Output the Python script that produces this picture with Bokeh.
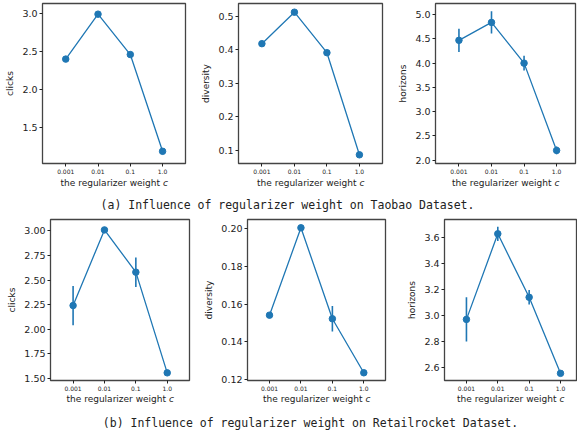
from bokeh.plotting import figure
from bokeh.layouts import column, row
from bokeh.models import FixedTicker, Label, Range1d
from bokeh.embed import file_html
from bokeh.resources import INLINE

# ---- data ----
c_labels = ["0.001", "0.01", "0.1", "1.0"]
x_idx = [0, 1, 2, 3]

tb_clicks = [2.40, 2.99, 2.46, 1.19]
tb_clicks_err = [0.02, 0.02, 0.03, 0.04]
tb_div = [0.418, 0.512, 0.391, 0.086]
tb_div_err = [0.004, 0.005, 0.004, 0.003]
tb_hor = [4.47, 4.84, 4.00, 2.20]
tb_hor_err = [0.24, 0.23, 0.15, 0.08]

rr_clicks = [2.24, 3.01, 2.58, 1.555]
rr_clicks_err = [0.20, 0.02, 0.15, 0.02]
rr_div = [0.1542, 0.2006, 0.1523, 0.1236]
rr_div_err = [0.001, 0.001, 0.0068, 0.001]
rr_hor = [2.967, 3.625, 3.137, 2.552]
rr_hor_err = [0.17, 0.055, 0.055, 0.02]

x_title = "the regularizer weight"
x_var = "c"
caption_a = "(a) Influence of regularizer weight on Taobao Dataset."
caption_b = "(b) Influence of regularizer weight on Retailrocket Dataset."

BLUE = "#1f77b4"
FONT = "DejaVu Sans"
TXT = "#222222"


def panel(vals, errs, ylabel, yr, yticks, fmt, xr, fw, fh, bl, br, bt, bb):
    p = figure(frame_width=fw, frame_height=fh, min_border_left=bl, min_border_right=br,
               min_border_top=bt, min_border_bottom=bb,
               x_range=Range1d(*xr), y_range=Range1d(*yr),
               toolbar_location=None, output_backend="svg")
    p.xgrid.visible = False
    p.ygrid.visible = False
    p.outline_line_color = "#444444"
    p.outline_line_width = 1.3

    lo = [v - e for v, e in zip(vals, errs)]
    hi = [v + e for v, e in zip(vals, errs)]
    p.segment(x0=x_idx, y0=lo, x1=x_idx, y1=hi, line_color=BLUE, line_width=1.6)
    p.line(x_idx, vals, line_color=BLUE, line_width=1.3)
    p.scatter(x_idx, vals, size=6.5, fill_color=BLUE, line_color=BLUE)

    p.xaxis.ticker = FixedTicker(ticks=x_idx)
    p.xaxis.major_label_overrides = {i: lab for i, lab in zip(x_idx, c_labels)}
    p.yaxis.ticker = FixedTicker(ticks=yticks)
    p.yaxis.major_label_overrides = {t: fmt.format(t) for t in yticks}
    for ax in (p.xaxis, p.yaxis):
        ax.axis_line_color = None
        ax.major_tick_in = 0
        ax.major_tick_out = 3
        ax.major_tick_line_color = TXT
        ax.minor_tick_line_color = None
        ax.major_label_standoff = 2
        ax.major_label_text_font = FONT
        ax.major_label_text_color = TXT
    p.xaxis.major_label_text_font_size = "6px"
    p.yaxis.major_label_text_font_size = "9.5px"
    p.yaxis.axis_label = ylabel
    p.yaxis.axis_label_text_font = FONT
    p.yaxis.axis_label_text_font_size = "9px"
    p.yaxis.axis_label_text_font_style = "normal"
    p.yaxis.axis_label_text_color = TXT
    p.yaxis.axis_label_standoff = 4
    return p


def xlabel_fig(fw, bl, br, h, cy):
    p = figure(frame_width=fw, frame_height=h, min_border_left=bl, min_border_right=br,
               min_border_top=0, min_border_bottom=0,
               x_range=Range1d(0, 1), y_range=Range1d(0, 1),
               toolbar_location=None, output_backend="svg")
    p.axis.visible = False
    p.grid.visible = False
    p.outline_line_color = None
    cx = fw / 2.0
    p.add_layout(Label(x=cx + 46, y=cy, x_units="screen", y_units="screen",
                       text=x_title, text_align="right", text_baseline="middle",
                       text_font=FONT, text_font_size="9px", text_color=TXT))
    p.add_layout(Label(x=cx + 49, y=cy, x_units="screen", y_units="screen",
                       text=x_var, text_align="left", text_baseline="middle",
                       text_font=FONT, text_font_size="9px", text_font_style="italic",
                       text_color=TXT))
    return p


def caption(text, h, cx, cy):
    p = figure(frame_width=577, frame_height=h, min_border=0,
               x_range=Range1d(0, 1), y_range=Range1d(0, 1),
               toolbar_location=None, output_backend="svg")
    p.axis.visible = False
    p.grid.visible = False
    p.outline_line_color = None
    p.add_layout(Label(x=cx, y=cy, x_units="screen", y_units="screen", text=text,
                       text_align="center", text_baseline="middle",
                       text_font="DejaVu Sans Mono", text_font_size="11.5px",
                       text_color=TXT))
    return p


def cell(vals, errs, ylabel, yr, yticks, fmt, xr, fw, fh, bl, br, bt, bb, lh, ly):
    p = panel(vals, errs, ylabel, yr, yticks, fmt, xr, fw, fh, bl, br, bt, bb)
    lab = xlabel_fig(fw, bl, br, lh, ly)
    return column(p, lab)


# top row: frame y 3..163
c1 = cell(tb_clicks, tb_clicks_err, "clicks", (1.03, 3.13), [1.5, 2.0, 2.5, 3.0], "{:.1f}",
          (-0.72, 3.71), 143, 160, 42, 11, 3, 12, 16, 9.5)
c2 = cell(tb_div, tb_div_err, "diversity", (0.060, 0.538), [0.1, 0.2, 0.3, 0.4, 0.5], "{:.1f}",
          (-0.72, 3.71), 144, 160, 42, 11, 3, 12, 16, 9.5)
c3 = cell(tb_hor, tb_hor_err, "horizons", (1.93, 5.23), [2.0, 2.5, 3.0, 3.5, 4.0, 4.5, 5.0], "{:.1f}",
          (-0.72, 3.58), 140, 160, 42, 2, 3, 12, 16, 9.5)

# bottom row: frame y 218..379
c4 = cell(rr_clicks, rr_clicks_err, "clicks", (1.477, 3.116), [1.5, 1.75, 2.0, 2.25, 2.5, 2.75, 3.0], "{:.2f}",
          (-0.72, 3.71), 139, 161, 50, 10, 7, 12, 16, 10.5)
c5 = cell(rr_div, rr_div_err, "diversity", (0.1195, 0.205), [0.12, 0.14, 0.16, 0.18, 0.20], "{:.2f}",
          (-0.70, 3.69), 138, 161, 48, 11, 7, 12, 16, 10.5)
c6 = cell(rr_hor, rr_hor_err, "horizons", (2.497, 3.735), [2.6, 2.8, 3.0, 3.2, 3.4, 3.6], "{:.1f}",
          (-0.70, 3.51), 132, 161, 48, 1, 7, 12, 16, 10.5)

cap_a = caption(caption_a, 20, 287, 8)
cap_b = caption(caption_b, 24, 310, 11)

layout = column(row(c1, c2, c3), cap_a, row(c4, c5, c6), cap_b)

open("out.html", "w").write(file_html(layout, INLINE))
